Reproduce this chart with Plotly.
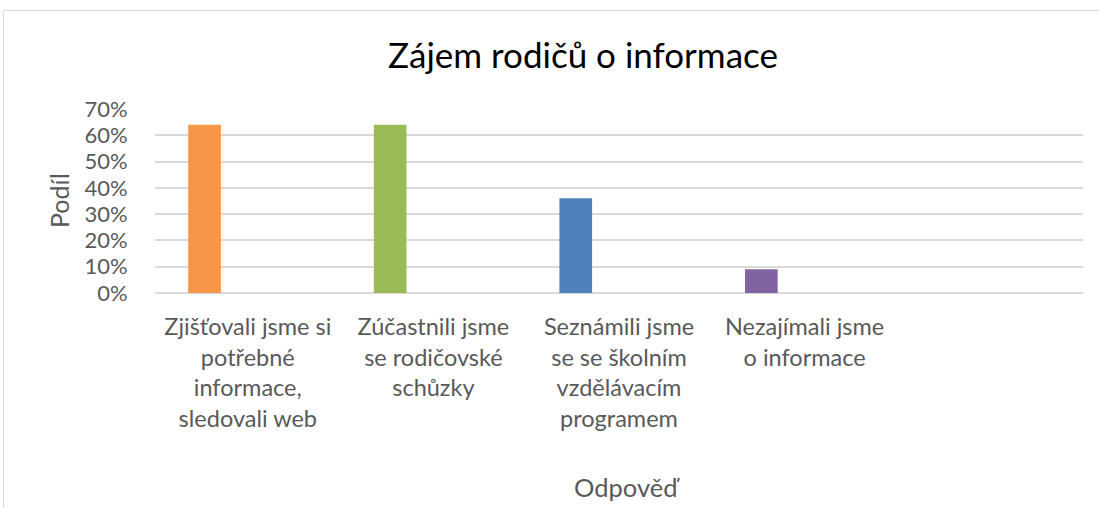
import plotly.graph_objects as go

# Data
categories = [
    "Zjišťovali jsme si<br>potřebné<br>informace,<br>sledovali web",
    "Zúčastnili jsme<br>se rodičovské<br>schůzky",
    "Seznámili jsme<br>se se školním<br>vzdělávacím<br>programem",
    "Nezajímali jsme<br>o informace",
]
shares = [0.64, 0.64, 0.36, 0.09]
bar_colors = ["#F79646", "#9BBB59", "#4F81BD", "#8064A2"]
y_ticks = [0, 0.1, 0.2, 0.3, 0.4, 0.5, 0.6, 0.7]

FONT = "Lato, 'Open Sans', sans-serif"
GRID = "#D9D9D9"
TEXT = "#595959"

W, H = 1099, 508
L, R, T, B = 155, 1083, 109, 293   # plot area in page pixels
pw, ph = R - L, B - T


def px_x(x):
    return (x - L) / pw


def px_y(y):
    return (B - y) / ph


# bars sit left of the slot centre (like an Excel cluster with empty series)
fig = go.Figure(go.Bar(
    x=categories, y=shares,
    marker=dict(color=bar_colors, line_width=0),
    width=0.176, offset=-0.321,
    hoverinfo="x+y",
))

fig.update_layout(
    width=W, height=H,
    margin=dict(l=L, r=W - R, t=T, b=H - B),
    paper_bgcolor="white", plot_bgcolor="white",
    font=dict(family=FONT, color=TEXT, size=22),
    showlegend=False,
    title=dict(text="Zájem rodičů o informace",
               x=583 / W, xanchor="center",
               y=1 - 56 / H, yanchor="middle",
               font=dict(size=35, color="#000000", family=FONT)),
)
fig.update_xaxes(
    range=[-0.5, 4.5], showgrid=False, showline=False, zeroline=False,
    ticks="outside", ticklen=13, tickcolor="rgba(0,0,0,0)",
    tickfont=dict(size=23.5, color=TEXT),
)
fig.update_yaxes(
    range=[0, 0.7], tickvals=y_ticks, tickformat=".0%",
    showgrid=True, gridcolor=GRID, gridwidth=1.5,
    zeroline=True, zerolinecolor=GRID, zerolinewidth=1.5,
    showline=False, ticks="outside", ticklen=22, tickcolor="rgba(0,0,0,0)",
    tickfont=dict(size=22, color=TEXT),
)

# axis titles
fig.add_annotation(text="Podíl", xref="paper", yref="paper",
                   x=px_x(59), y=px_y(201), xanchor="center", yanchor="middle",
                   textangle=-90, showarrow=False,
                   font=dict(size=25, color=TEXT))
fig.add_annotation(text="Odpověď", xref="paper", yref="paper",
                   x=px_x(627), y=px_y(487), xanchor="center", yanchor="middle",
                   showarrow=False, font=dict(size=25.5, color=TEXT))

# chart area border (cropped by the window on right/bottom)
fig.add_shape(type="rect", xref="paper", yref="paper",
              x0=px_x(3.5), x1=px_x(1130),
              y0=px_y(540), y1=px_y(10.5),
              line=dict(color=GRID, width=1), layer="below")

fig.write_html("out.html", config={"displayModeBar": False},
               post_script="document.body.style.margin = '0';")
